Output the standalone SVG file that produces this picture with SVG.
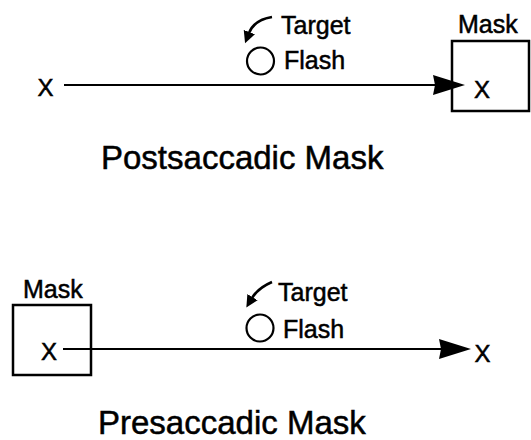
<svg xmlns="http://www.w3.org/2000/svg" width="531" height="440" viewBox="0 0 531 440">
<defs>
<style>
text{font-family:"Liberation Sans",Arial,sans-serif;fill:#000;stroke:#000;stroke-width:0.5}
.x{font-size:24px;text-anchor:middle}
.lbl{font-size:25px}
.title{font-size:33px}
.box{fill:none;stroke:#000;stroke-width:2.5}
.ln{fill:none;stroke:#000;stroke-width:2.2}
.cv{fill:none;stroke:#000;stroke-width:2.6}
.circ{fill:none;stroke:#000;stroke-width:2.2}
</style>
<marker id="big" markerUnits="userSpaceOnUse" markerWidth="36" markerHeight="24" refX="16" refY="11" orient="auto">
<path d="M0,1 L32,11 L0,21 L2,11 z" fill="#000"/>
</marker>
<marker id="small" markerUnits="userSpaceOnUse" markerWidth="16" markerHeight="14" refX="1" refY="7" orient="auto">
<path d="M0,1 L12,7 L0,13 z" fill="#000"/>
</marker>
</defs>
<rect width="531" height="440" fill="#fff"/>

<g id="connectors">
<line class="ln" x1="64" y1="85" x2="449" y2="85" marker-end="url(#big)"/>
<path class="cv" d="M272,17 Q254,20 249,33" marker-end="url(#small)"/>
<line class="ln" x1="63" y1="349" x2="455" y2="349" marker-end="url(#big)"/>
<path class="cv" d="M272,282 Q258,288 252,298" marker-end="url(#small)"/>
</g>

<g id="top-start">
<text class="x" x="45.5" y="96">X</text>
</g>
<g id="top-mask">
<rect class="box" x="452" y="41" width="77" height="70"/>
<text class="lbl" x="458" y="33">Mask</text>
<text class="x" x="482" y="98">X</text>
</g>
<g id="top-target">
<circle class="circ" cx="260.5" cy="61" r="13.5"/>
<text class="lbl" x="281" y="34">Target</text>
<text class="lbl" x="284" y="69">Flash</text>
</g>
<g id="top-title">
<text class="title" x="101" y="169">Postsaccadic Mask</text>
</g>

<g id="bottom-mask">
<rect class="box" x="13" y="305" width="78" height="70"/>
<text class="lbl" x="23" y="298">Mask</text>
<text class="x" x="49" y="360">X</text>
</g>
<g id="bottom-end">
<text class="x" x="482.5" y="362">X</text>
</g>
<g id="bottom-target">
<circle class="circ" cx="260" cy="328" r="13.5"/>
<text class="lbl" x="278" y="301">Target</text>
<text class="lbl" x="283" y="338">Flash</text>
</g>
<g id="bottom-title">
<text class="title" x="98" y="434">Presaccadic Mask</text>
</g>
</svg>
